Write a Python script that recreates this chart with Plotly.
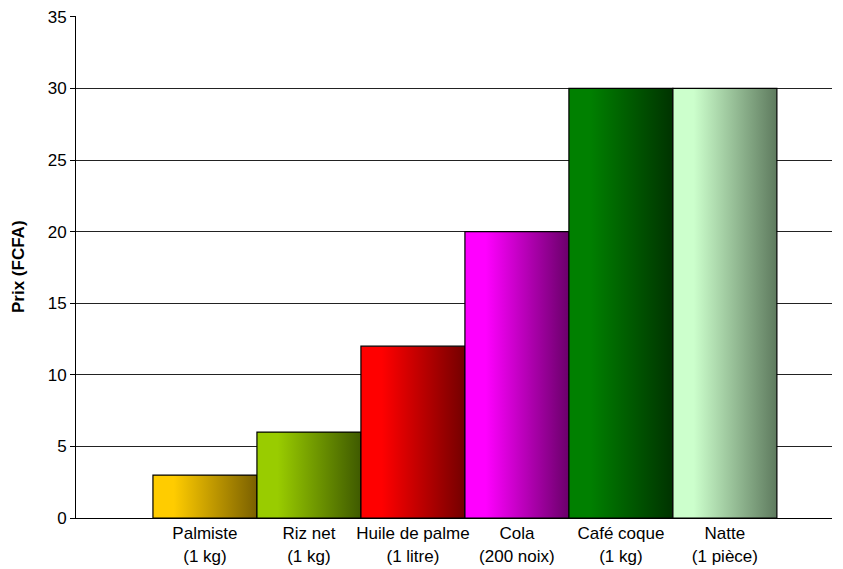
import plotly.graph_objects as go

categories = ["Palmiste<br>(1 kg)", "Riz net<br>(1 kg)", "Huile de palme<br>(1 litre)",
              "Cola<br>(200 noix)", "Café coque<br>(1 kg)", "Natte<br>(1 pièce)"]
values = [3, 6, 12, 20, 30, 30]
light_colors = ["#FFCC00", "#99CC00", "#FF0000", "#FF00FF", "#008000", "#CCFFCC"]
dark_colors = ["#7A6000", "#3F5A00", "#740000", "#6A006A", "#003300", "#5E7A5E"]
y_ticks = [0, 5, 10, 15, 20, 25, 30, 35]

fig = go.Figure()
half = 0.5
for i, (v, c1, c2) in enumerate(zip(values, light_colors, dark_colors)):
    fig.add_trace(go.Scatter(
        x=[i - half, i + half, i + half, i - half, i - half],
        y=[0, 0, v, v, 0],
        mode="lines",
        fill="toself",
        fillgradient=dict(type="horizontal",
                          colorscale=[[0, c1], [0.2, c1], [1, c2]]),
        line=dict(color="black", width=1.2),
        hoverinfo="skip",
        showlegend=False,
    ))

# page body adds an 8px offset; figure is sized/margined to compensate
fig.update_layout(
    width=835, height=561,
    margin=dict(l=68, r=11, t=8, b=51, autoexpand=False),
    paper_bgcolor="white", plot_bgcolor="white",
    font=dict(family="Liberation Sans, Arial, sans-serif", size=17, color="black"),
    showlegend=False,
    annotations=[dict(
        text="<b>Prix (FCFA)</b>", textangle=-90,
        xref="paper", yref="paper", x=-58 / 756, y=0.5,
        xanchor="center", yanchor="middle", showarrow=False,
        font=dict(size=17, color="black"),
    )],
)
fig.update_xaxes(
    range=[-1.24, 6.03], automargin=False,
    tickmode="array", tickvals=list(range(len(categories))), ticktext=categories,
    showgrid=False, zeroline=False,
    showline=True, linecolor="black", linewidth=1,
    ticks="", tickfont=dict(size=17),
)
fig.update_yaxes(
    range=[0, 35.06], automargin=False,
    tickmode="array", tickvals=y_ticks,
    showgrid=True, gridcolor="#222222", gridwidth=1,
    zeroline=False,
    showline=True, linecolor="black", linewidth=1,
    ticks="outside", ticklen=5, tickcolor="black",
    tickfont=dict(size=17), ticklabeloverflow="allow",
)

fig.write_html("out.html")
